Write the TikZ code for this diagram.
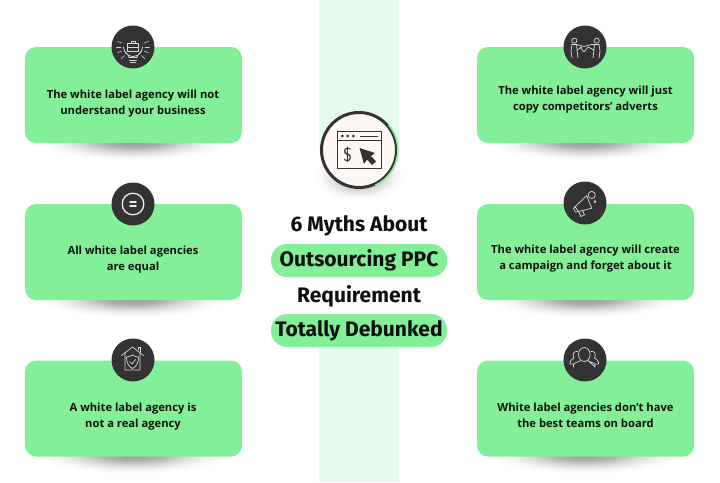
\documentclass[tikz,border=0pt]{standalone}
\usepackage{fontspec}
\setmainfont{Open Sans}
\newfontfamily\titlefont{Fira Sans}
\usepackage{xcolor}
\usepackage{tikz}
\usetikzlibrary{shapes.geometric, positioning, calc}
\definecolor{mythgreen}{RGB}{131, 240, 153}
\definecolor{mythmint}{RGB}{228, 250, 235}
\definecolor{mythdark}{RGB}{51, 51, 51}
\definecolor{mythcream}{RGB}{253, 248, 245}
\definecolor{mythink}{RGB}{12, 16, 14}
\pgfdeclareradialshading{softdrop}{\pgfpoint{0cm}{0cm}}{color(0bp)=(black!42); color(7bp)=(black!32); color(13bp)=(black!14); color(18bp)=(black!4); color(22bp)=(white); color(50bp)=(white)}
\tikzset{
  mythcard/.style={fill=mythgreen, rounded corners=11pt, minimum width=217pt, minimum height=96pt, inner sep=0pt},
  mythtext/.style={text=mythink, align=center, font=\fontsize{11.2}{16}\selectfont\bfseries},
  badge/.style={circle, fill=mythdark, minimum size=43pt, inner sep=0pt},
  pill/.style={fill=mythgreen, rounded corners=16pt, minimum width=176pt, minimum height=33pt, inner sep=0pt, text=mythink, font=\fontsize{21}{24}\selectfont\titlefont\bfseries},
  headline/.style={text=mythink, font=\fontsize{21}{24}\selectfont\titlefont\bfseries},
  cardshadow/.style={ellipse, minimum width=215pt, minimum height=44pt, inner sep=0pt, shading=softdrop},
  glyph/.style={draw=white!85!black, line width=0.7pt, line join=round, line cap=round},
  winline/.style={draw=mythdark, line width=0.9pt}
}
\begin{document}
\begin{tikzpicture}[x=1pt,y=-1pt]
\useasboundingbox (0,0) rectangle (720,482);
\fill[white] (0,0) rectangle (720,482);

% Middle strip
\fill[mythmint] (319,0) rectangle (399,150);
\fill[mythmint] (319,348) rectangle (399,482);

% Shadows under the cards
\node[cardshadow] (shadow1) at (133,141) {};
\node[cardshadow] (shadow2) at (133,298) {};
\node[cardshadow] (shadow3) at (133,454) {};
\node[cardshadow] (shadow4) at (585,141) {};
\node[cardshadow] (shadow5) at (585,298) {};
\node[cardshadow] (shadow6) at (585,454) {};

% Left cards
\node[mythcard] (card1) at (133.5,95) {};
\node[mythtext] (text1) at (133,103.5) {The white label agency will not\\understand your business};
\node[mythcard] (card2) at (133.5,252) {};
\node[mythtext] (text2) at (133,259.5) {All white label agencies\\are equal};
\node[mythcard] (card3) at (133.5,408.5) {};
\node[mythtext] (text3) at (133,416.5) {A white label agency is\\not a real agency};

% Right cards
\node[mythcard] (card4) at (585.5,95) {};
\node[mythtext] (text4) at (585.5,100) {The white label agency will just\\copy competitors’ adverts};
\node[mythcard] (card5) at (585.5,252) {};
\node[mythtext] (text5) at (585.5,259) {The white label agency will create\\a campaign and forget about it};
\node[mythcard] (card6) at (585.5,408.5) {};
\node[mythtext] (text6) at (585.5,415) {White label agencies don’t have\\the best teams on board};

% Badges
\node[badge] (badge1) at (133,47) {};
\node[badge] (badge2) at (133,204) {};
\node[badge] (badge3) at (133,360) {};
\node[badge] (badge4) at (585,47) {};
\node[badge] (badge5) at (585,203) {};
\node[badge] (badge6) at (585,360) {};

% Bulb with briefcase
\draw[glyph] (129,57.5) .. controls (129,54) and (123.5,52.5) .. (123.5,47) arc (180:0:9.5) .. controls (142.5,52.5) and (137,54) .. (137,57.5) -- cycle;
\draw[glyph] (129.5,60) -- (136.5,60) (130.5,62.5) -- (135.5,62.5);
\draw[glyph] (127.5,43.5) rectangle (138.5,51) (127.5,47) -- (138.5,47) (131,43.5) -- (131,41.5) -- (135,41.5) -- (135,43.5);
\foreach \ang in {-20,0,20,160,180,200,135,45}
  \draw[glyph, line width=0.5pt] ($(133,47)+(\ang:12)$) -- ($(133,47)+(\ang:16.5)$);

% Equal sign
\draw[white!92!black, line width=1.3pt] (badge2) circle (10.8);
\draw[white!92!black, line width=1.5pt, line cap=round] (130,202) -- (136,202) (130,206) -- (136,206);

% House with shield
\draw[glyph] (121.5,355.5) -- (132.5,347) -- (143.5,355.5) (125,353) -- (125,370) -- (140,370) -- (140,353);
\draw[glyph] (138,349.5) -- (138,347.5) -- (140.5,347.5) -- (140.5,352);
\draw[glyph] (132.5,355) .. controls (135,356.5) and (137,357) .. (138.5,357) .. controls (138.5,363) and (136.5,366.5) .. (132.5,368.5) .. controls (128.5,366.5) and (126.5,363) .. (126.5,357) .. controls (128,357) and (130,356.5) .. (132.5,355) -- cycle;
\draw[glyph] (129.5,361.5) -- (132,364) -- (135.5,359.5);

% Two people with a rope
\draw[glyph] (574.3,40.7) circle (2.6) (596.7,40.7) circle (2.6);
\draw[glyph] (572,44.5) -- (576.5,44.5) -- (584,46.5) -- (591.5,44.5) -- (599,44.5);
\draw[glyph] (572,44.5) -- (571,51) -- (572,58) (576.5,44.5) -- (577,50) -- (578,58) (577,50) -- (582,47);
\draw[glyph] (599,44.5) -- (600,51) -- (599,58) (594.5,44.5) -- (594,50) -- (593,58) (594,50) -- (588,47);
\draw[glyph] (580,47) -- (584,52) -- (588,47);

% Megaphone
\draw[glyph] (575,206.7) -- (586.7,195.7) -- (591.7,208.3) -- (578.5,211.5) -- cycle;
\draw[glyph] (578.5,211.5) -- (581,216.5) -- (584.5,215) -- (582.5,210.5);
\draw[glyph] (575,206.7) -- (573.5,208.5) -- (575.5,212) -- (578.5,211.5);
\draw[glyph] (591.7,195) circle (3.6);
\draw[glyph] (595,201.7) circle (1);

% Group of three
\draw[glyph] (584.3,354.5) ellipse (5.8 and 7);
\draw[glyph] (573.5,367) -- (573.5,365) .. controls (573.5,362) and (579.5,362.5) .. (580.5,360.5) (588,360.5) .. controls (589,362.5) and (595,362) .. (595,365) -- (595,367) -- cycle;
\draw[glyph] (577.5,351.5) .. controls (573,350.5) and (572.5,355) .. (574,358) .. controls (573,359.5) and (570,359.5) .. (570,362) -- (570,364) -- (573.5,364);
\draw[glyph] (591,351.5) .. controls (595.5,350.5) and (596,355) .. (594.5,358) .. controls (595.5,359.5) and (598.5,359.5) .. (598.5,362) -- (598.5,364) -- (595,364);

% Middle icon
\node[ellipse, minimum width=100pt, minimum height=56pt, inner sep=0pt, shading=softdrop] (iconshadow) at (359,176) {};
\node[circle, fill=mythcream, draw=mythdark, line width=3pt, minimum size=75pt, inner sep=0pt] (mainicon) at (359,150) {};
\draw[mythgreen, line width=1.6pt] ($(mainicon.center)+(65:38.8)$) arc (65:-40:38.8);
\draw[winline] (337.5,131.5) rectangle (381.5,168.5) (337.5,140.5) -- (381.5,140.5);
\fill[mythdark] (342.3,136) circle (1.5) (347.7,136) circle (1.5) (353.3,136) circle (1.5);
\draw[winline] (360,136) -- (378,136);
\node[text=mythdark, font=\fontsize{19}{20}\selectfont\sffamily] (dollar) at (347.7,155) {\$};
\fill[mythdark] (359.5,148) -- (375,153) -- (371,156) -- (376,161.5) -- (372,165) -- (367,159.5) -- (364,164) -- cycle;

% Title
\node[headline] (title1) at (359,225.5) {6 Myths About};
\node[pill] (title2) at (359,260.5) {\raisebox{-2pt}{Outsourcing PPC}};
\node[headline] (title3) at (359,296) {Requirement};
\node[pill] (title4) at (359,330.5) {\raisebox{-2pt}{Totally Debunked}};
\end{tikzpicture}
\end{document}
